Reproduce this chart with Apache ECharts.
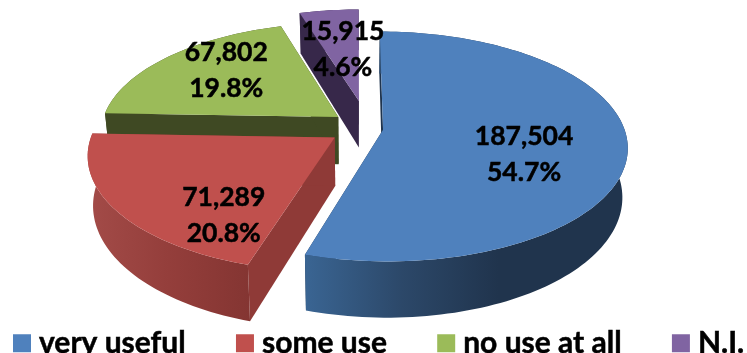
<!DOCTYPE html>
<html>
<head>
<meta charset="utf-8">
<style>html,body{margin:0;padding:0;background:#fff}#c{width:747px;height:353px}</style>
<script src="https://cdn.jsdelivr.net/npm/echarts@6/dist/echarts.min.js"></script>
</head>
<body>
<div id="c"></div>
<script>
var categories = ['very useful', 'some use', 'no use at all', 'N.I.'];
var values = [187504, 71289, 67802, 15915];
var topColors = ['#4F81BD', '#C0504D', '#9BBB59', '#8064A2'];
var sideColors = ['#1F344E', '#8F3A37', '#3F4923', '#37284A'];
var arcStops = [
  [[0, '#3A6593'], [0.3, '#2C4869'], [0.6, '#20344D'], [1, '#20344D']],
  [[0, '#A34B48'], [0.5, '#943E3B'], [1, '#843532']],
  [[0, '#3F4923'], [1, '#3F4923']],
  [[0, '#37284A'], [1, '#37284A']]
];
// layout of the 3D pie (world units: x right, z away from the viewer)
var center = [357, 128], radii = [241, 241, 238, 241], eyeDist = 1670, squash = 0.4646, depth = 48, baseShrink = 0.98;
var explodeXZ = [[26, -4], [-22, -20], [-19, 24], [2, 60]];
var labelOffsets = [[141, 25], [-111, 78], [-112, -47], [-16, -52]];
var FONT = 'Lato';

var total = values.reduce(function (a, b) { return a + b; }, 0);
function project(X, Z, bottom) {
  var s = eyeDist / (eyeDist + Z);
  return bottom
    ? [center[0] + X * s * baseShrink, center[1] - squash * Z * s + depth * s]
    : [center[0] + X * s, center[1] - squash * Z * s];
}
function rim(i, a, bottom) {
  var r = a * Math.PI / 180;
  return project(explodeXZ[i][0] + radii[i] * Math.sin(r), explodeXZ[i][1] + radii[i] * Math.cos(r), bottom);
}
function startAngle(i) {
  var sum = 0;
  for (var k = 0; k < i; k++) sum += values[k];
  return sum / total * 360;
}
function makeRender(i) {
  return function () {
    var a0 = startAngle(i), a1 = a0 + values[i] / total * 360;
    var steps = Math.ceil((a1 - a0) / 1.5), top = [], base = [], t;
    for (t = 0; t <= steps; t++) {
      var a = a0 + (a1 - a0) * t / steps;
      top.push(rim(i, a, false));
      base.push(rim(i, a, true));
    }
    var hubT = project(explodeXZ[i][0], explodeXZ[i][1], false);
    var hubB = project(explodeXZ[i][0], explodeXZ[i][1], true);
    function poly(pts, fill, z2) {
      return { type: 'polygon', z2: z2, shape: { points: pts }, style: { fill: fill, stroke: null } };
    }
    var grad = new echarts.graphic.LinearGradient(0, 0, 1, 0, arcStops[i].map(function (s) {
      return { offset: s[0], color: s[1] };
    }));
    var lab = labelOffsets[i];
    return {
      type: 'group',
      children: [
        poly([hubT, top[0], base[0], hubB], sideColors[i], 1),
        poly([hubT, top[steps], base[steps], hubB], sideColors[i], 1),
        poly(top.concat(base.slice().reverse()), grad, 2),
        poly([hubT].concat(top), topColors[i], 3),
        {
          type: 'text', z2: 100,
          style: {
            x: hubT[0] + lab[0], y: hubT[1] + lab[1],
            text: values[i].toLocaleString('en-US') + '\n' + (values[i] / total * 100).toFixed(1) + '%',
            font: '700 26.5px ' + FONT, lineHeight: 36, fill: '#000',
            align: 'center', verticalAlign: 'middle',
            stroke: '#000', lineWidth: 0.5
          }
        }
      ]
    };
  };
}
// drawn back to front: the last slice sits furthest away
var series = categories.map(function (name, i) {
  return {
    type: 'custom', name: name, coordinateSystem: 'none',
    data: [values[i]], renderItem: makeRender(i),
    itemStyle: { color: topColors[i] }, silent: true
  };
}).reverse();

var chart = echarts.init(document.getElementById('c'), null, { renderer: 'canvas' });
chart.setOption({
  animation: false,
  backgroundColor: '#fff',
  legend: {
    data: categories, left: 8, top: 323, width: 900, itemWidth: 18, itemHeight: 18, itemGap: 50,
    selectedMode: false, icon: 'rect', padding: 5,
    textStyle: { fontFamily: FONT, fontWeight: 700, fontSize: 30, color: '#000', padding: [0, 0, 0, 3], textBorderColor: '#000', textBorderWidth: 0.5 }
  },
  series: series
});
</script>
</body>
</html>
